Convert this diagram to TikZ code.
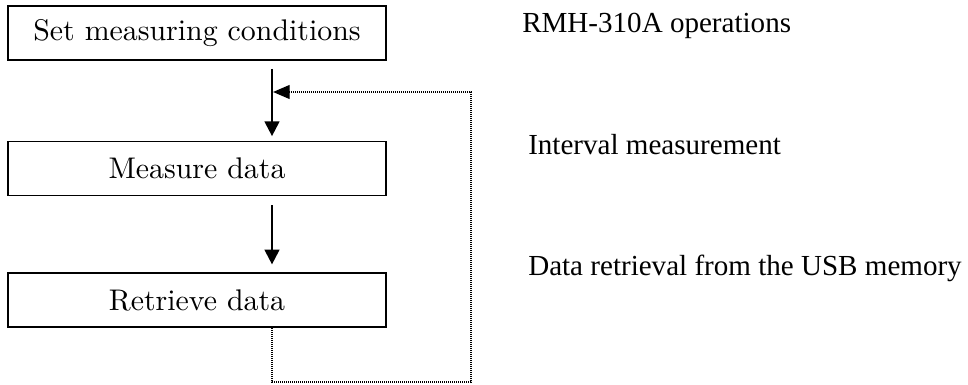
\documentclass[tikz,border=0pt]{standalone}
\usepackage{fontspec}
\newfontfamily\notefont{Liberation Serif}
\newfontfamily\boxfont[Extension=.otf]{lmroman10-regular}
\usetikzlibrary{positioning,arrows.meta}

\begin{document}
\begin{tikzpicture}[
    stepbox/.style={draw, line width=1.2pt, minimum width=283.5pt, minimum height=40.5pt, inner sep=0pt, font=\boxfont\fontsize{22.4}{26}\selectfont},
    note/.style={anchor=base west, inner sep=0pt, font=\notefont\fontsize{21.8}{26}\selectfont},
    flowarrow/.style={line width=1.6pt, -{Triangle[length=11pt,width=11pt]}},
    loopline/.style={line width=0.9pt, dash pattern=on 0.8pt off 0.7pt, -{Triangle[length=12.5pt,width=10.5pt]}}
]

    \useasboundingbox (0,0) rectangle (726pt,-288.75pt);

    \node [stepbox] (setcond) at (147.75pt,-24.75pt) {Set measuring conditions}; % first step
    \node [stepbox, below=60pt of setcond] (measure) {Measure data}; % second step
    \node [stepbox, below=57pt of measure] (retrieve) {Retrieve data}; % third step

    \coordinate (col) at (204pt,0); % column of the arrows
    \coordinate (loopcorner) at (353.25pt,-286.5pt); % bottom right corner of the loop
    \coordinate (loopend) at (204pt,-69pt); % loop joins the first arrow here

    \node [note] (ops) at (391.5pt,-24.75pt) {RMH-310A operations}; % heading
    \node [note] (interval) at (396pt,-116.25pt) {Interval measurement}; % note of second step
    \node [note] (usb) at (396pt,-206.25pt) {Data retrieval from the USB memory}; % note of third step

    \draw [flowarrow, shorten <=6pt, shorten >=3.5pt] (setcond.south -| col) -- (measure.north -| col);
    \draw [flowarrow, shorten <=6.5pt, shorten >=6pt] (measure.south -| col) -- (retrieve.north -| col);
    \draw [loopline, shorten >=0.8pt] (retrieve.south -| col) |- (loopcorner) |- (loopend);

\end{tikzpicture}
\end{document}
